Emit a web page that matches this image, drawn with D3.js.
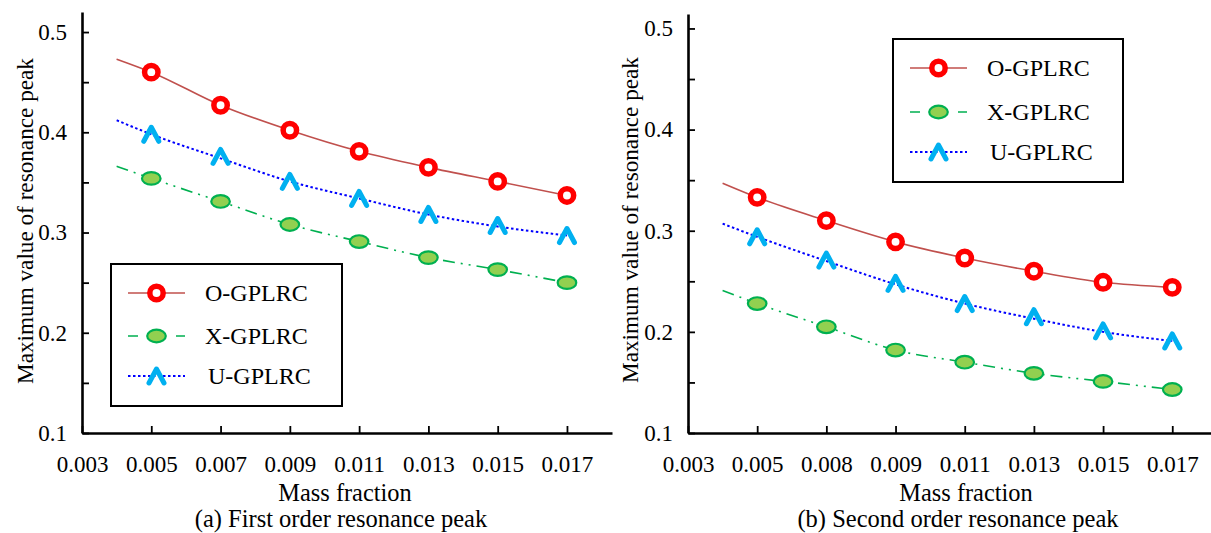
<!DOCTYPE html>
<html>
<head>
<meta charset="utf-8">
<script src="https://cdn.jsdelivr.net/npm/d3@7/dist/d3.min.js"></script>
<style>
  html, body { margin: 0; padding: 0; background: #fff; }
  svg { display: block; }
  svg text { font-family: "Liberation Serif", "DejaVu Serif", serif; }
</style>
</head>
<body>
<svg id="chart" width="1211" height="533"></svg>
<script>
// Tick labels of the mass-fraction axis (equally spaced categories)
const xLabelsA = ["0.003", "0.005", "0.007", "0.009", "0.011", "0.013", "0.015", "0.017"];
const xLabelsB = ["0.003", "0.005", "0.008", "0.009", "0.011", "0.013", "0.015", "0.017"];
const yTickValues = [0.1, 0.15, 0.2, 0.25, 0.3, 0.35, 0.4, 0.45, 0.5];
const seriesNames = ["O-GPLRC", "X-GPLRC", "U-GPLRC"];

// Measured peaks at mass fractions 0.005 ... 0.017 (categories 1..7)
const oPeakA = [0.460, 0.427, 0.402, 0.381, 0.365, 0.351, 0.337];
const xPeakA = [0.354, 0.331, 0.308, 0.291, 0.275, 0.263, 0.250];
const uPeakA = [0.398, 0.376, 0.351, 0.334, 0.318, 0.307, 0.297];

const oPeakB = [0.333, 0.310, 0.289, 0.273, 0.260, 0.249, 0.244];
const xPeakB = [0.228, 0.205, 0.182, 0.170, 0.159, 0.151, 0.143];
const uPeakB = [0.294, 0.271, 0.248, 0.228, 0.215, 0.201, 0.191];

// Fitted trend curves: first value sits half a category before 0.005,
// the rest at the seven measured categories
const fitPositions = [0.5, 1, 2, 3, 4, 5, 6, 7];
const oFitA = [0.473, 0.460, 0.427, 0.402, 0.381, 0.365, 0.351, 0.337];
const xFitA = [0.366, 0.354, 0.331, 0.308, 0.291, 0.275, 0.263, 0.250];
const uFitA = [0.412, 0.398, 0.374, 0.351, 0.334, 0.318, 0.306, 0.297];

const oFitB = [0.347, 0.333, 0.310, 0.289, 0.273, 0.260, 0.249, 0.244];
const xFitB = [0.241, 0.228, 0.205, 0.182, 0.170, 0.159, 0.151, 0.143];
const uFitB = [0.307, 0.294, 0.270, 0.247, 0.228, 0.213, 0.200, 0.191];

const FONT = "Liberation Serif, DejaVu Serif, serif";
const svg = d3.select("#chart");

const styles = [
  { line: "#C0504D", dash: null, width: 1.6, marker: "ring" },
  { line: "#00B050", dash: "12,6,2,6,2,6", width: 1.6, marker: "ellipse" },
  { line: "#0000FF", dash: "2.5,2.5", width: 2, marker: "caret" }
];

function drawMarker(g, type, x, y) {
  if (type === "ring") {
    g.append("circle").attr("cx", x).attr("cy", y).attr("r", 6.7)
      .attr("fill", "#fff").attr("stroke", "#FF0000").attr("stroke-width", 5.5);
  } else if (type === "ellipse") {
    g.append("ellipse").attr("cx", x).attr("cy", y).attr("rx", 9.3).attr("ry", 6.3)
      .attr("fill", "#92D050").attr("stroke", "#00B050").attr("stroke-width", 2.2);
  } else {
    g.append("path").attr("transform", `translate(${x},${y})`)
      .attr("d", "M-7.5,7L0,-7L7.5,7")
      .attr("fill", "none").attr("stroke", "#00B0F0").attr("stroke-width", 5)
      .attr("stroke-linecap", "round").attr("stroke-linejoin", "round");
  }
}

function label(g, x, y, size, text, anchor) {
  return g.append("text").attr("x", x).attr("y", y)
    .attr("font-family", FONT).attr("font-size", size)
    .attr("text-anchor", anchor || "start").attr("fill", "#000").text(text);
}

function panel(cfg) {
  const g = svg.append("g");
  const x = d3.scaleLinear().domain([0, cfg.xMax]).range([cfg.left, cfg.right]);
  const y = d3.scaleLinear().domain([0.1, cfg.yMax]).range([cfg.bottom, cfg.top]);

  // Axes with inward ticks
  const xAxis = d3.axisBottom(x)
    .tickValues(d3.range(cfg.xLabels.length))
    .tickFormat(i => cfg.xLabels[i])
    .tickSizeInner(-7).tickSizeOuter(0).tickPadding(23);
  const yAxis = d3.axisLeft(y)
    .tickValues(yTickValues)
    .tickFormat(d => (Math.round(d * 100) % 10 === 0) ? d3.format(".1f")(d) : "")
    .tickSizeInner(-7).tickSizeOuter(0).tickPadding(15);

  const gx = g.append("g").attr("transform", `translate(0,${cfg.bottom})`).call(xAxis);
  const gy = g.append("g").attr("transform", `translate(${cfg.left},0)`).call(yAxis);
  [gx, gy].forEach(a => {
    a.attr("font-family", FONT).attr("font-size", 23);
    a.select(".domain").attr("stroke", "#000").attr("stroke-width", 2.6);
    a.selectAll(".tick line").attr("stroke", "#000").attr("stroke-width", 1.8);
    a.selectAll(".tick text").attr("fill", "#000")
      .attr("font-family", FONT).attr("font-size", 23);
  });

  // Trend curves
  const fits = [cfg.oFit, cfg.xFit, cfg.uFit];
  const peaks = [cfg.oPeak, cfg.xPeak, cfg.uPeak];
  const line = d3.line().x(d => x(d[0])).y(d => y(d[1])).curve(d3.curveMonotoneX);
  fits.forEach((f, k) => {
    g.append("path")
      .datum(fitPositions.map((p, i) => [p, f[i]]))
      .attr("d", line)
      .attr("fill", "none")
      .attr("stroke", styles[k].line)
      .attr("stroke-width", styles[k].width)
      .attr("stroke-dasharray", styles[k].dash);
  });

  // Markers at the measured categories
  peaks.forEach((p, k) => {
    p.forEach((v, i) => drawMarker(g, styles[k].marker, x(i + 1), y(v)));
  });

  // Legend
  const L = cfg.legend;
  g.append("rect").attr("x", L.x).attr("y", L.y).attr("width", L.w).attr("height", L.h)
    .attr("fill", "#fff").attr("stroke", "#000").attr("stroke-width", 2);
  seriesNames.forEach((name, k) => {
    const ry = L.rows[k];
    g.append("line").attr("x1", L.lineX0).attr("x2", L.lineX1).attr("y1", ry).attr("y2", ry)
      .attr("stroke", styles[k].line).attr("stroke-width", styles[k].width)
      .attr("stroke-dasharray", k === 1 ? "10,14" : styles[k].dash);
    drawMarker(g, styles[k].marker, (L.lineX0 + L.lineX1) / 2, ry);
    label(g, L.textX[k], ry, 24, name).attr("dy", "0.35em");
  });

  // Titles
  g.append("text")
    .attr("transform", `translate(${cfg.yTitleX},${cfg.yTitleY}) rotate(-90)`)
    .attr("font-family", FONT)
    .attr("text-anchor", "middle").attr("font-size", 23.2).attr("fill", "#000")
    .text("Maximum value of resonance peak");
  label(g, cfg.xTitleX, 501, 24.4, "Mass fraction", "middle");
  label(g, cfg.captionX, 527, 24.5, cfg.caption, "middle");
}

panel({
  left: 82, right: 612, bottom: 433, top: 12, xMax: 7.65, yMax: 0.52,
  xLabels: xLabelsA,
  oPeak: oPeakA, xPeak: xPeakA, uPeak: uPeakA,
  oFit: oFitA, xFit: xFitA, uFit: uFitA,
  legend: { x: 111, y: 264, w: 231, h: 142, rows: [293, 336, 376], lineX0: 128, lineX1: 185, textX: [205, 205, 208] },
  yTitleX: 33, yTitleY: 221, xTitleX: 345, captionX: 341,
  caption: "(a) First order resonance peak"
});

panel({
  left: 688, right: 1211, bottom: 433, top: 14, xMax: 7.56, yMax: 0.5143,
  xLabels: xLabelsB,
  oPeak: oPeakB, xPeak: xPeakB, uPeak: uPeakB,
  oFit: oFitB, xFit: xFitB, uFit: uFitB,
  legend: { x: 893, y: 39, w: 230, h: 143, rows: [68, 112, 152], lineX0: 910, lineX1: 967, textX: [987, 987, 990] },
  yTitleX: 638, yTitleY: 220, xTitleX: 966, captionX: 958,
  caption: "(b) Second order resonance peak"
});
</script>
</body>
</html>
